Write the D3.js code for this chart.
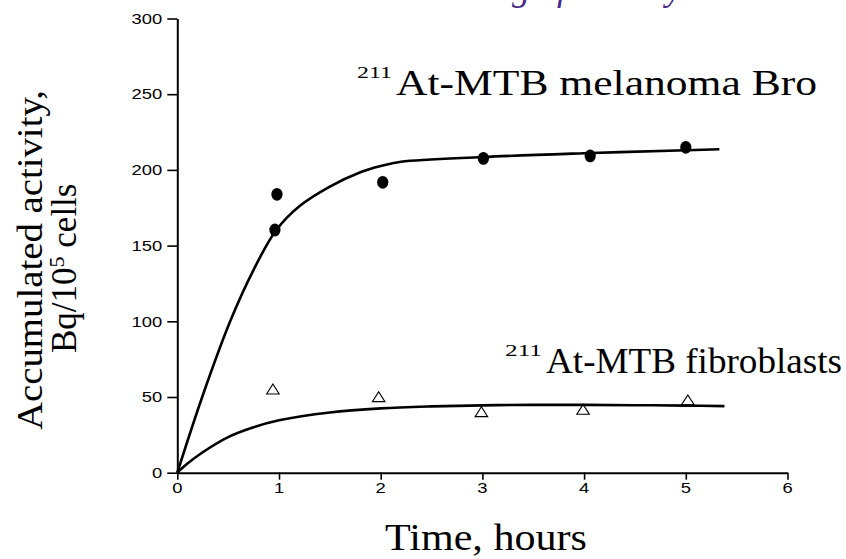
<!DOCTYPE html>
<html><head><meta charset="utf-8">
<script src="https://cdn.jsdelivr.net/npm/d3@7"></script>
<style>
html,body{margin:0;padding:0;background:#fff;}
svg{display:block;}
</style></head>
<body>
<svg id="chart" width="846" height="559"></svg>
<script>
// ---- data ----
const xTicks = [0, 1, 2, 3, 4, 5, 6];
const xMinor = [0.5, 1.5, 2.5, 3.5, 4.5, 5.5];
const yTicks = [0, 50, 100, 150, 200, 250, 300];
const yMinor = [25, 75, 125, 175, 225, 275];

const melanomaT = [0.96, 0.98, 2.02, 3.01, 4.06, 5.0];
const melanomaV = [160.3, 183.9, 191.8, 207.6, 209.2, 214.9];
const fibroT = [0.94, 1.98, 2.99, 3.99, 5.02];
const fibroV = [54.2, 49.1, 39.2, 40.8, 47.0];

const melanomaFitT = [0, 0.25, 0.52, 0.75, 0.97, 1.2, 1.5, 1.8, 2.0, 2.2, 3.0, 4.0, 5.0, 5.33];
const melanomaFitV = [0, 51, 100, 134, 160, 176, 189, 198.5, 202.6, 205.4, 208.5, 211, 213, 213.6];
const fibroFitT = [0, 0.1, 0.25, 0.5, 0.75, 1, 1.5, 2, 2.5, 3, 3.5, 4, 4.5, 5, 5.38];
const fibroFitV = [0, 6.0, 13.5, 23.5, 30.0, 34.6, 39.8, 42.5, 43.8, 44.5, 44.8, 44.8, 44.6, 44.3, 44];

const xLabel = "Time, hours";
const yLabel1 = "Accumulated activity,";
const yLabel2a = "Bq/10";
const yLabel2sup = "5";
const yLabel2b = " cells";
const melLabelSup = "211", melLabel = "At-MTB melanoma Bro";
const fibLabelSup = "211", fibLabel = "At-MTB fibroblasts";
const titleText = "Tracking of activity in cells";

// ---- scales ----
const svg = d3.select("#chart");
const x = d3.scaleLinear().domain([0, 6]).range([177.3, 787.5]);
const y = d3.scaleLinear().domain([0, 300]).range([472.7, 18.5]);
const SX = 1.27; // horizontal stretch of small text

// title (cut off at the top edge, only descenders show)
svg.append("text").attr("x", 402).attr("y", -0.5)
  .attr("font-family", "Liberation Serif").attr("font-style", "italic")
  .attr("font-size", 36).attr("fill", "#4a2a8a").text(titleText);

// axes
const gx = svg.append("g").attr("transform", `translate(0,${y(0)})`);
gx.call(d3.axisBottom(x).tickValues(xMinor).tickSize(4).tickFormat(""));
gx.call(d3.axisBottom(x).tickValues(xTicks).tickSize(7).tickSizeOuter(0).tickFormat(""));
const gy = svg.append("g").attr("transform", `translate(${x(0)},0)`);
gy.call(d3.axisLeft(y).tickValues(yMinor).tickSize(5).tickFormat(""));
gy.call(d3.axisLeft(y).tickValues(yTicks).tickSize(10).tickSizeOuter(0).tickFormat(""));
svg.selectAll(".domain").attr("stroke", "#000").attr("stroke-width", 2);
svg.selectAll(".tick line").attr("stroke", "#000").attr("stroke-width", 1.6);

// tick labels (stretched)
svg.append("g").selectAll("text").data(xTicks).join("text")
  .attr("transform", d => `translate(${x(d)},${y(0) + 20}) scale(${SX},1)`)
  .attr("text-anchor", "middle").attr("font-family", "Liberation Sans")
  .attr("font-size", 14.5).text(d => d);
svg.append("g").selectAll("text").data(yTicks).join("text")
  .attr("transform", d => `translate(${x(0) - 15},${y(d) + 5.2}) scale(${SX},1)`)
  .attr("text-anchor", "end").attr("font-family", "Liberation Sans")
  .attr("font-size", 14.5).text(d => d);

// fit curves
const line = d3.line().x(d => x(d[0])).y(d => y(d[1])).curve(d3.curveCatmullRom.alpha(0.5));
svg.append("path").datum(d3.zip(melanomaFitT, melanomaFitV)).attr("d", line)
  .attr("fill", "none").attr("stroke", "#000").attr("stroke-width", 2.6);
svg.append("path").datum(d3.zip(fibroFitT, fibroFitV)).attr("d", line)
  .attr("fill", "none").attr("stroke", "#000").attr("stroke-width", 2.6);

// points
svg.append("g").selectAll("ellipse").data(d3.zip(melanomaT, melanomaV)).join("ellipse")
  .attr("cx", d => x(d[0])).attr("cy", d => y(d[1])).attr("rx", 5.6).attr("ry", 6.4)
  .attr("fill", "#000");
const tri = d3.symbol().type(d3.symbolTriangle).size(62);
svg.append("g").selectAll("path").data(d3.zip(fibroT, fibroV)).join("path")
  .attr("transform", d => `translate(${x(d[0])},${y(d[1])}) scale(1.05,0.95)`)
  .attr("d", tri).attr("fill", "none").attr("stroke", "#000").attr("stroke-width", 1.1);

// axis titles
const serif = "Liberation Serif";
svg.append("text").attr("x", 385).attr("y", 550).attr("font-family", serif)
  .attr("font-size", 38).attr("textLength", 202).attr("lengthAdjust", "spacingAndGlyphs")
  .text(xLabel);
svg.append("text").attr("transform", "translate(42,430) rotate(-90)")
  .attr("font-family", serif).attr("font-size", 35)
  .attr("textLength", 340).attr("lengthAdjust", "spacingAndGlyphs").text(yLabel1);
const l2 = svg.append("text").attr("transform", "translate(76,353) rotate(-90)")
  .attr("font-family", serif).attr("font-size", 35);
l2.append("tspan").text(yLabel2a);
l2.append("tspan").attr("font-size", 22).attr("dy", -12).text(yLabel2sup);
l2.append("tspan").attr("dy", 12).text(yLabel2b);

// series labels
svg.append("text").attr("x", 357).attr("y", 78).attr("font-family", serif)
  .attr("font-size", 17).attr("textLength", 35).attr("lengthAdjust", "spacingAndGlyphs").text(melLabelSup);
svg.append("text").attr("x", 396).attr("y", 95).attr("font-family", serif)
  .attr("font-size", 35).attr("textLength", 421).attr("lengthAdjust", "spacingAndGlyphs").text(melLabel);
svg.append("text").attr("x", 505).attr("y", 356).attr("font-family", serif)
  .attr("font-size", 17).attr("textLength", 37).attr("lengthAdjust", "spacingAndGlyphs").text(fibLabelSup);
svg.append("text").attr("x", 546).attr("y", 373).attr("font-family", serif)
  .attr("font-size", 35).attr("textLength", 296).attr("lengthAdjust", "spacingAndGlyphs").text(fibLabel);
</script>
</body></html>
